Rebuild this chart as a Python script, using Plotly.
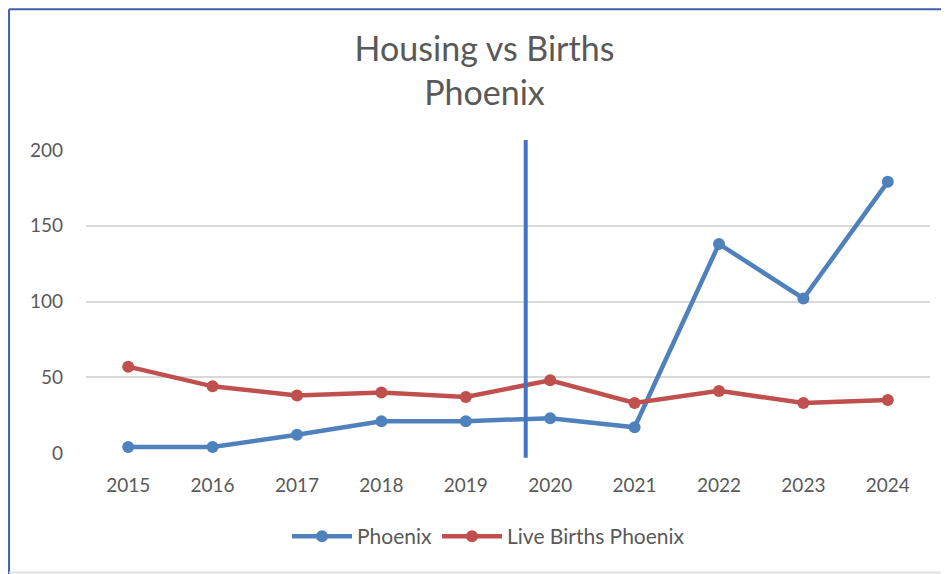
import plotly.graph_objects as go

years = [2015, 2016, 2017, 2018, 2019, 2020, 2021, 2022, 2023, 2024]
phoenix = [4, 4, 12, 21, 21, 23, 17, 138, 102, 179]
live_births = [57, 44, 38, 40, 37, 48, 33, 41, 33, 35]
marker_year = 2019.71

# page is drawn with an 8px body margin; work in figure coordinates
O = 8
W, H = 949 - O, 574 - O
L = 86 - O
T = 150 - O
R = W - (930.5 - O)
B = H - (453.3 - O)
pw = W - L - R
ph = H - T - B


def px_x(p):
    return (p - O - L) / pw


def px_y(p):
    return (H - B - (p - O)) / ph


font_fam = "Lato, 'Open Sans', sans-serif"
grey = "#595959"

fig = go.Figure()
fig.add_trace(go.Scatter(x=years, y=phoenix, name="Phoenix", mode="lines+markers",
                         line=dict(color="#4F81BD", width=4.5),
                         marker=dict(size=12, color="#4F81BD")))
fig.add_trace(go.Scatter(x=years, y=live_births, name="Live Births Phoenix", mode="lines+markers",
                         line=dict(color="#C0504D", width=4.5),
                         marker=dict(size=12, color="#C0504D")))

fig.add_shape(type="line", xref="x", yref="paper", x0=marker_year, x1=marker_year,
              y0=px_y(458), y1=px_y(140), line=dict(color="#4472C4", width=4))

# outer frame
fig.add_shape(type="line", xref="paper", yref="paper", x0=px_x(O + 1), x1=px_x(960),
              y0=px_y(O + 1), y1=px_y(O + 1), line=dict(color="#3F5FAF", width=2))
fig.add_shape(type="line", xref="paper", yref="paper", x0=px_x(O + 1), x1=px_x(O + 1),
              y0=px_y(O + 1), y1=px_y(600), line=dict(color="#3F5FAF", width=2))
fig.add_shape(type="line", xref="paper", yref="paper", x0=px_x(O + 1), x1=px_x(960),
              y0=px_y(573), y1=px_y(573), line=dict(color="#E0E0E0", width=2))

fig.update_layout(
    width=W, height=H,
    margin=dict(l=L, r=R, t=T, b=B, pad=0),
    paper_bgcolor="white", plot_bgcolor="white",
    font=dict(family=font_fam, color=grey, size=19),
    title=dict(text="Housing vs Births<br>Phoenix", xref="container",
               x=(484.5 - O) / W, xanchor="center",
               yref="container", y=1 - 53 / H, yanchor="top",
               font=dict(size=34, color=grey, family=font_fam)),
    xaxis=dict(range=[2014.5, 2024.5], tickmode="array", tickvals=years,
               ticktext=[str(y) for y in years], showgrid=False, zeroline=False,
               showline=False, ticks="", ticklabelstandoff=19,
               tickfont=dict(size=19, color=grey)),
    yaxis=dict(range=[0, 200], tickvals=[0, 50, 100, 150, 200], showgrid=True,
               gridcolor="#D9D9D9", gridwidth=1.5, zeroline=False, showline=False,
               ticks="", ticklabelstandoff=22, tickfont=dict(size=19, color=grey)),
    legend=dict(orientation="h", xref="container", x=(488.5 - O) / W, xanchor="center",
                yref="container", y=1 - (516 - O) / H, yanchor="top",
                font=dict(size=21, color=grey), bgcolor="rgba(0,0,0,0)",
                itemwidth=60),
    showlegend=True,
)

fig.write_html("out.html")
